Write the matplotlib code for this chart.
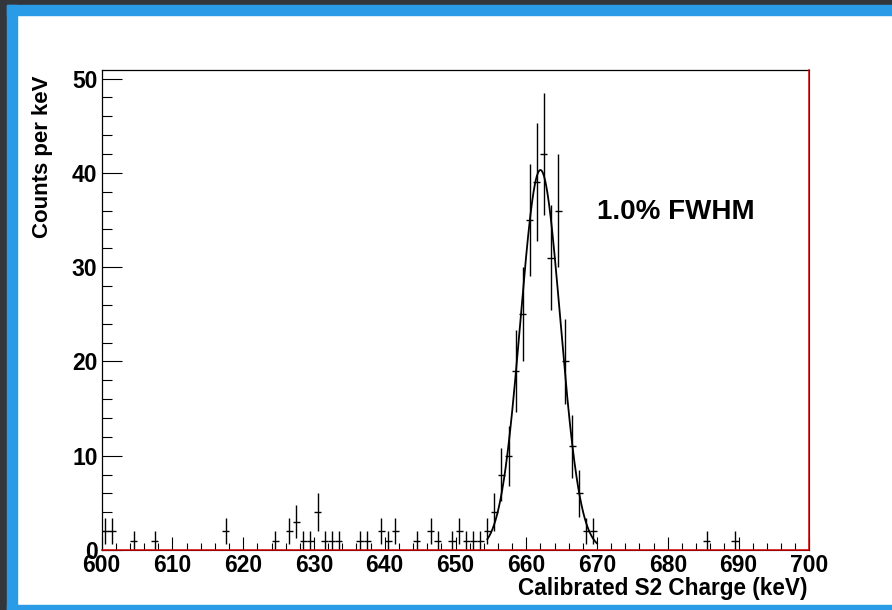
import matplotlib as mpl
mpl.use('Agg')
import matplotlib.pyplot as plt
import numpy as np
from matplotlib.patches import Rectangle
from matplotlib.ticker import MultipleLocator

# counts per 1 keV bin, 600-700 keV
bin_lo = 600
bin_hi = 700
counts = [
	2, 2, 0, 0, 1, 0, 0, 1, 0, 0,        # 600-609
	0, 0, 0, 0, 0, 0, 0, 2, 0, 0,        # 610-619
	0, 0, 0, 0, 1, 0, 2, 3, 1, 1,        # 620-629
	4, 1, 1, 1, 0, 0, 1, 1, 0, 2,        # 630-639
	1, 2, 0, 0, 1, 0, 2, 1, 0, 1,        # 640-649
	2, 1, 1, 1, 2, 4, 8, 10, 19, 25,     # 650-659
	35, 39, 42, 31, 36, 20, 11, 6, 2, 2, # 660-669
	0, 0, 0, 0, 0, 0, 0, 0, 0, 0,        # 670-679
	0, 0, 0, 0, 0, 1, 0, 0, 0, 1,        # 680-689
	0, 0, 0, 0, 0, 0, 0, 0, 0, 0,        # 690-699
]

# gaussian fit to the photopeak
fit_amp = 40.3
fit_mean = 662.0
fit_fwhm_pct = 1.0
fit_range = (654.5, 670.0)
fit_label = '1.0% FWHM'

counts = np.array(counts, dtype=float)
centres = np.arange(bin_lo, bin_hi) + 0.5
errs = np.sqrt(counts)
filled = counts > 0

W, H = 892, 610
fig = plt.figure(figsize=(W/100., H/100.), dpi=100)
fig.patch.set_facecolor('white')

# window border around the canvas
fig.patches.append(Rectangle((0, 0), 7./W, 1, transform=fig.transFigure, color='#33363b', zorder=0))
fig.patches.append(Rectangle((0, 1-5./H), 1, 5./H, transform=fig.transFigure, color='#33363b', zorder=0))
fig.patches.append(Rectangle((7./W, 1-15./H), 1, 10./H, transform=fig.transFigure, color='#2a9be6', zorder=0))
fig.patches.append(Rectangle((7./W, 0), 10./W, 1-5./H, transform=fig.transFigure, color='#2a9be6', zorder=0))
fig.patches.append(Rectangle((7./W, 0), 1, 5./H, transform=fig.transFigure, color='#2a9be6', zorder=0))

x0, x1 = 101.7, 809.3
y0, y1 = 550.0, 70.0
ax = fig.add_axes([x0/W, 1-y0/H, (x1-x0)/W, (y0-y1)/H])

ax.errorbar(centres[filled], counts[filled], xerr=0.5, yerr=errs[filled],
	fmt='none', ecolor='black', elinewidth=1.0, capsize=0)

sigma = fit_fwhm_pct/100.*fit_mean/(2*np.sqrt(2*np.log(2)))
xf = np.linspace(fit_range[0], fit_range[1], 200)
ax.plot(xf, fit_amp*np.exp(-0.5*((xf-fit_mean)/sigma)**2), color='black', lw=1.3)

ymax = 1.05*np.max(counts+errs)
ax.set_xlim(bin_lo, bin_hi)
ax.set_ylim(0, ymax)

# empty red histogram sits on the bottom and right edges
ax.plot([bin_lo, bin_hi, bin_hi], [0, 0, ymax], color='#d40000', lw=1.1, clip_on=False, zorder=5)

for s in ['top', 'left']:
	ax.spines[s].set_linewidth(0.9)
ax.spines['bottom'].set_color('black')
ax.spines['right'].set_color('black')

ax.xaxis.set_major_locator(MultipleLocator(10))
ax.xaxis.set_minor_locator(MultipleLocator(2))
ax.yaxis.set_major_locator(MultipleLocator(10))
ax.yaxis.set_minor_locator(MultipleLocator(2))
ax.tick_params(axis='x', which='major', direction='in', length=9.4, width=0.8, pad=3)
ax.tick_params(axis='x', which='minor', direction='in', length=4.7, width=0.8)
ax.tick_params(axis='y', which='major', direction='in', length=14.4, width=0.8, pad=3)
ax.tick_params(axis='y', which='minor', direction='in', length=7.2, width=0.8)

font = {'family': 'Liberation Sans', 'weight': 'bold'}
for lab in ax.get_xticklabels() + ax.get_yticklabels():
	lab.set_fontfamily('Liberation Sans')
	lab.set_fontweight('bold')
	lab.set_fontsize(16.5)

fig.text(808./W, 1-588./H, 'Calibrated S2 Charge (keV)', ha='right', va='center', fontsize=16.3, **font)
fig.text(43./W, 1-75./H, 'Counts per keV', ha='center', va='top', rotation=90, fontsize=16, **font)
fig.text(597./W, 1-212./H, fit_label, ha='left', va='center', fontsize=20, **font)

plt.savefig('out.png', dpi=100)
plt.close()
